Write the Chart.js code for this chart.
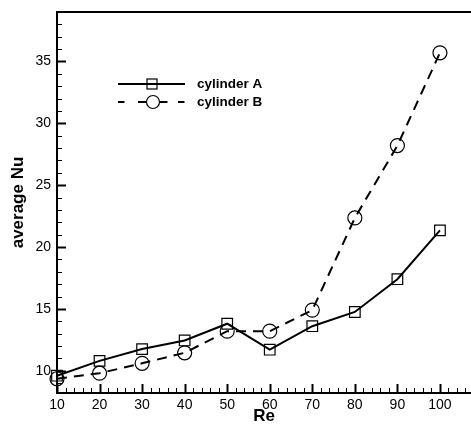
<!DOCTYPE html>
<html>
<head>
<meta charset="utf-8">
<script src="https://cdn.jsdelivr.net/npm/chart.js@4"></script>
<style>
  html, body { margin: 0; padding: 0; background: #fff; }
  #nuChart { display: block; }
</style>
</head>
<body>
<canvas id="nuChart" width="471" height="427"></canvas>
<script>
const reynolds = [10, 20, 30, 40, 50, 60, 70, 80, 90, 100]
const nuCylinderA = [9.6, 10.8, 11.75, 12.45, 13.8, 11.7, 13.6, 14.75, 17.4, 21.35]
const nuCylinderB = [9.35, 9.8, 10.6, 11.45, 13.2, 13.2, 14.9, 22.35, 28.2, 35.7]
const seriesNames = ["cylinder A", "cylinder B"]

const FONT = "'Liberation Sans', Arial, Helvetica, sans-serif"

function toPoints(ys) {
    return reynolds.map((x, i) => ({ x: x, y: ys[i] }))
}

// inward tick marks (major + minor) and the top frame line
const frameTicks = {
    id: "frameTicks",
    afterDraw(chart) {
        const ctx = chart.ctx
        const area = chart.chartArea
        const xs = chart.scales.x
        const ys = chart.scales.y
        ctx.save()
        ctx.strokeStyle = "#000"

        ctx.lineWidth = 2
        ctx.beginPath()
        ctx.moveTo(area.left - 1, area.top)
        ctx.lineTo(area.right, area.top)
        ctx.stroke()

        for (let v = Math.ceil(ys.min); v <= ys.max; v++) {
            const py = Math.round(ys.getPixelForValue(v)) + 0.5
            const major = v % 5 === 0
            ctx.lineWidth = major ? 2 : 1
            ctx.beginPath()
            ctx.moveTo(area.left, py)
            ctx.lineTo(area.left + (major ? 9 : 5), py)
            ctx.stroke()
        }

        for (let v = 10; v <= xs.max; v += 2) {
            const px = Math.round(xs.getPixelForValue(v)) + 0.5
            const major = v % 10 === 0
            ctx.lineWidth = major ? 2 : 1
            ctx.beginPath()
            ctx.moveTo(px, area.bottom)
            ctx.lineTo(px, area.bottom - (major ? 9 : 5))
            ctx.stroke()
        }
        ctx.restore()
    }
}

// legend box inside the plot, upper left
const insideLegend = {
    id: "insideLegend",
    afterDraw(chart) {
        const ctx = chart.ctx
        ctx.save()
        ctx.strokeStyle = "#000"
        ctx.fillStyle = "#000"
        ctx.font = "bold 13.5px " + FONT
        ctx.textBaseline = "middle"

        // cylinder A: solid line with square
        ctx.lineWidth = 2
        ctx.beginPath()
        ctx.moveTo(118, 84)
        ctx.lineTo(185, 84)
        ctx.stroke()
        ctx.lineWidth = 1.2
        ctx.strokeRect(147, 79, 10, 10)
        ctx.fillText(seriesNames[0], 197, 84)

        // cylinder B: dashed line with circle
        ctx.lineWidth = 2
        const segs = [[118, 124.5], [138, 147], [159, 167.5], [178, 184.5]]
        segs.forEach(s => {
            ctx.beginPath()
            ctx.moveTo(s[0], 102)
            ctx.lineTo(s[1], 102)
            ctx.stroke()
        })
        ctx.lineWidth = 1.2
        ctx.beginPath()
        ctx.arc(153, 102, 6.5, 0, Math.PI * 2)
        ctx.stroke()
        ctx.fillText(seriesNames[1], 197, 102)
        ctx.restore()
    }
}

new Chart(document.getElementById("nuChart"), {
    type: "line",
    data: {
        datasets: [{
            label: seriesNames[0],
            data: toPoints(nuCylinderA),
            borderColor: "#000",
            borderWidth: 2,
            pointStyle: "rect",
            pointRadius: 7.5,
            pointBorderWidth: 1.2,
            pointBorderColor: "#000",
            pointBackgroundColor: "rgba(0,0,0,0)",
            tension: 0,
            clip: false
        }, {
            label: seriesNames[1],
            data: toPoints(nuCylinderB),
            borderColor: "#000",
            borderWidth: 2,
            borderDash: [10, 7],
            pointStyle: "circle",
            pointRadius: 7,
            pointBorderWidth: 1.2,
            pointBorderColor: "#000",
            pointBackgroundColor: "rgba(0,0,0,0)",
            tension: 0,
            clip: false
        }]
    },
    options: {
        responsive: false,
        animation: false,
        devicePixelRatio: 1,
        layout: {
            autoPadding: false,
            padding: { top: 12, right: 0, left: 0, bottom: 0 }
        },
        plugins: {
            legend: { display: false },
            tooltip: { enabled: false }
        },
        scales: {
            x: {
                type: "linear",
                min: 10,
                max: 107.3,
                afterFit: s => {
                    s.height = 34
                    s.paddingLeft = 0
                    s.paddingRight = 0
                },
                ticks: {
                    stepSize: 10,
                    includeBounds: false,
                    padding: 4,
                    color: "#000",
                    font: { family: FONT, size: 14 },
                    maxRotation: 0
                },
                grid: { drawOnChartArea: false, drawTicks: false },
                border: { color: "#000", width: 2 },
                title: {
                    display: true,
                    text: "Re",
                    color: "#000",
                    font: { family: FONT, size: 17, weight: "bold" },
                    padding: { top: 0, bottom: 0 }
                }
            },
            y: {
                type: "linear",
                min: 8.2,
                max: 39,
                afterFit: s => {
                    s.width = 57
                    s.paddingTop = 0
                    s.paddingBottom = 0
                },
                ticks: {
                    stepSize: 5,
                    includeBounds: false,
                    padding: 6,
                    color: "#000",
                    font: { family: FONT, size: 14 }
                },
                grid: { drawOnChartArea: false, drawTicks: false },
                border: { color: "#000", width: 2 },
                title: {
                    display: true,
                    text: "average Nu",
                    color: "#000",
                    font: { family: FONT, size: 17, weight: "bold" },
                    padding: { top: 8, bottom: 0 }
                }
            }
        }
    },
    plugins: [frameTicks, insideLegend]
})
</script>
</body>
</html>
